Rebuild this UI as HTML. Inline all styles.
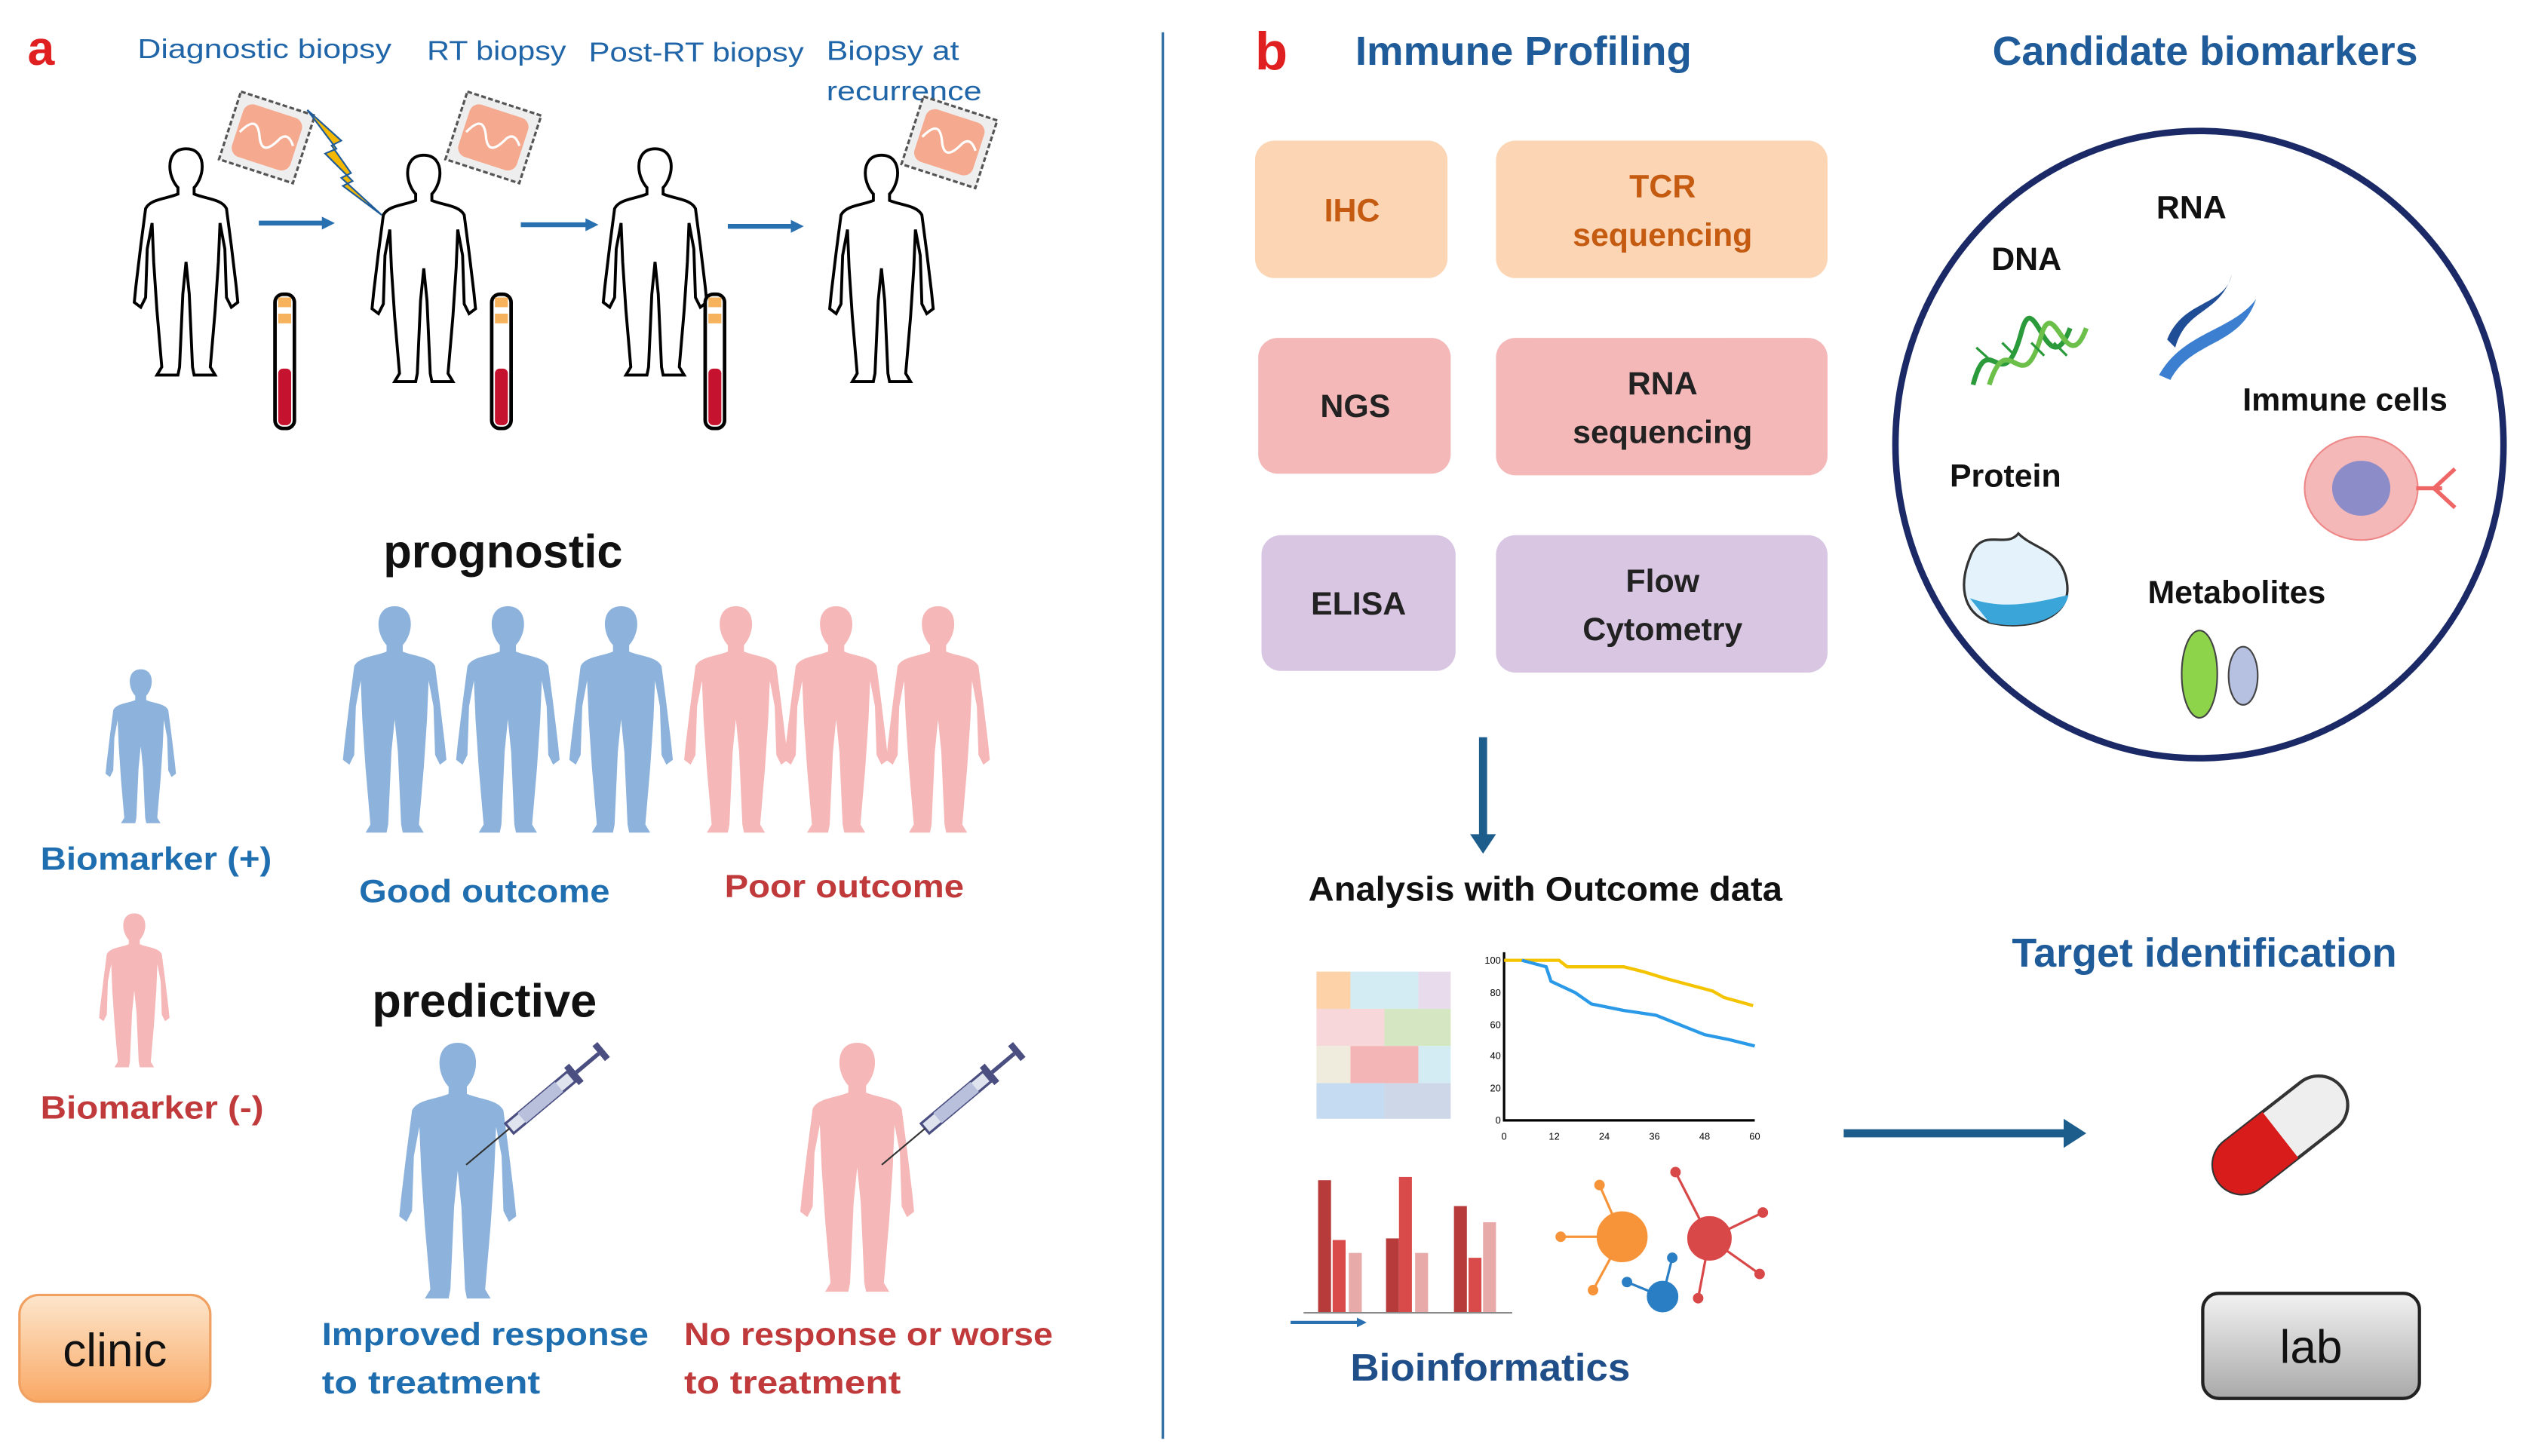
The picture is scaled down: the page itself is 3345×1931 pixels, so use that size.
<!DOCTYPE html>
<html><head><meta charset="utf-8"><style>
html,body{margin:0;padding:0;background:#fff;}
svg{display:block;}
text{font-family:"Liberation Sans",sans-serif;}
</style></head><body>
<svg width="3345" height="1931" viewBox="0 0 1560 900.6" xmlns="http://www.w3.org/2000/svg">
<defs>
<path id="p" d="M0,0 C-7,0 -10,5 -10,11 C-10,17 -7,22 -5,24 L-5,28 C-12,31 -22,31 -25,37 L-28,60 L-31,85 L-32,95 L-28,98 L-25,92 L-24,62 L-21,46 L-20,70 L-18,100 L-15,135 L-18,140 L-5,140 L-4,135 L-2,90 L0,70 L2,90 L4,135 L5,140 L18,140 L15,135 L18,100 L20,70 L21,46 L24,62 L25,92 L28,98 L32,95 L31,85 L28,60 L25,37 C22,31 12,31 5,28 L5,24 C7,22 10,17 10,11 C10,5 7,0 0,0 Z"/>
<g id="tube">
<rect x="-6" y="0" width="12" height="83" rx="5" fill="#fff" stroke="#000" stroke-width="2.2"/>
<rect x="-4" y="2" width="8" height="6" fill="#f6b25c"/>
<rect x="-4" y="12" width="8" height="6" fill="#f6b25c"/>
<rect x="-4" y="46" width="8" height="35" rx="3" fill="#c4122f"/>
</g>
<g id="tile">
<rect x="-24" y="-22" width="48" height="44" fill="#eee" stroke="#555" stroke-width="1.5" stroke-dasharray="3,1.5"/>
<rect x="-19" y="-17" width="38" height="34" rx="6" fill="#f5a98f"/>
<path d="M-17,2 C-12,-8 -8,-8 -4,2 C0,10 4,6 8,-2 C11,-6 14,-4 17,0" fill="none" stroke="#fff" stroke-width="1.5"/>
</g>
<g id="syr">
<rect x="0" y="-4" width="50" height="8" fill="#dfe3ee" stroke="#4a4e80" stroke-width="1.5"/>
<rect x="10" y="-4" width="30" height="8" fill="#b9c0dc"/>
<rect x="50" y="-7" width="4" height="14" fill="#4a4e80"/>
<line x1="54" y1="0" x2="72" y2="0" stroke="#4a4e80" stroke-width="2.5"/>
<rect x="72" y="-6" width="4" height="12" fill="#4a4e80"/>
<line x1="0" y1="0" x2="-35" y2="0" stroke="#333" stroke-width="1"/>
</g>
<linearGradient id="og" x1="0" y1="0" x2="0" y2="1"><stop offset="0" stop-color="#fde6cc"/><stop offset="1" stop-color="#f9a864"/></linearGradient>
<linearGradient id="gg" x1="0" y1="0" x2="0" y2="1"><stop offset="0" stop-color="#f2f2f2"/><stop offset="1" stop-color="#a9a9a9"/></linearGradient>
</defs>

<!-- Panel a -->
<text x="17" y="40" font-size="30" font-weight="bold" fill="#e02020">a</text>
<g font-size="17" fill="#1f65a8" lengthAdjust="spacingAndGlyphs">
<text x="85" y="36" textLength="157" lengthAdjust="spacingAndGlyphs">Diagnostic biopsy</text>
<text x="264" y="37" textLength="86" lengthAdjust="spacingAndGlyphs">RT biopsy</text>
<text x="364" y="38" textLength="133" lengthAdjust="spacingAndGlyphs">Post-RT biopsy</text>
<text x="511" y="37" textLength="82" lengthAdjust="spacingAndGlyphs">Biopsy at</text>
<text x="511" y="62" textLength="96" lengthAdjust="spacingAndGlyphs">recurrence</text>
</g>
<g fill="#fff" stroke="#000" stroke-width="1.8">
<use href="#p" transform="translate(115,92)"/>
<use href="#p" transform="translate(262,96)"/>
<use href="#p" transform="translate(405,92)"/>
<use href="#p" transform="translate(545,96)"/>
</g>
<use href="#tube" transform="translate(176,182)"/>
<use href="#tube" transform="translate(310,182)"/>
<use href="#tube" transform="translate(442,182)"/>
<use href="#tile" transform="translate(165,85) rotate(18)"/>
<use href="#tile" transform="translate(305,85) rotate(18)"/>
<use href="#tile" transform="translate(587,88) rotate(18)"/>
<path d="M190,68 L208,92 L201,95 L218,112 L212,115 L236,133 L211,110 L217,107 L205,90 L211,87 Z" fill="#f5b800" stroke="#1f5c99" stroke-width="1"/>
<g stroke="#2870b0" stroke-width="3" fill="#2870b0">
<line x1="160" y1="138" x2="200" y2="138"/><path d="M199,134 L207,138 L199,142 Z" stroke="none"/>
<line x1="322" y1="139" x2="363" y2="139"/><path d="M362,135 L370,139 L362,143 Z" stroke="none"/>
<line x1="450" y1="140" x2="490" y2="140"/><path d="M489,136 L497,140 L489,144 Z" stroke="none"/>
</g>

<text x="237" y="351" font-size="29" font-weight="bold" fill="#111" textLength="148" lengthAdjust="spacingAndGlyphs">prognostic</text>
<g fill="#8db3dc">
<use href="#p" transform="translate(244,375)"/>
<use href="#p" transform="translate(314,375)"/>
<use href="#p" transform="translate(384,375)"/>
<use href="#p" transform="translate(87,414) scale(0.68)"/>
<use href="#p" transform="translate(283,645) scale(1.13)"/>
</g>
<g fill="#f5b7b7">
<use href="#p" transform="translate(455,375)"/>
<use href="#p" transform="translate(517,375)"/>
<use href="#p" transform="translate(580,375)"/>
<use href="#p" transform="translate(83,565) scale(0.68)"/>
<use href="#p" transform="translate(530,645) scale(1.1)"/>
</g>
<use href="#syr" transform="translate(315,698) rotate(-40)"/>
<use href="#syr" transform="translate(572,698) rotate(-40)"/>
<g font-size="20" font-weight="bold" fill="#1f6fb0">
<text x="222" y="558" textLength="155" lengthAdjust="spacingAndGlyphs">Good outcome</text>
<text x="25" y="538" textLength="143" lengthAdjust="spacingAndGlyphs">Biomarker (+)</text>
<text x="199" y="832" textLength="202" lengthAdjust="spacingAndGlyphs">Improved response</text>
<text x="199" y="862" textLength="135" lengthAdjust="spacingAndGlyphs">to treatment</text>
</g>
<g font-size="20" font-weight="bold" fill="#c0393b">
<text x="448" y="555" textLength="148" lengthAdjust="spacingAndGlyphs">Poor outcome</text>
<text x="25" y="692" textLength="138" lengthAdjust="spacingAndGlyphs">Biomarker (-)</text>
<text x="423" y="832" textLength="228" lengthAdjust="spacingAndGlyphs">No response or worse</text>
<text x="423" y="862" textLength="134" lengthAdjust="spacingAndGlyphs">to treatment</text>
</g>
<text x="230" y="629" font-size="29" font-weight="bold" fill="#111" textLength="139" lengthAdjust="spacingAndGlyphs">predictive</text>
<rect x="12" y="801" width="118" height="66" rx="12" fill="url(#og)" stroke="#f0a060" stroke-width="1.5"/>
<text x="71" y="845" font-size="29" text-anchor="middle" fill="#111">clinic</text>

<line x1="719" y1="20" x2="719" y2="890" stroke="#2e6da4" stroke-width="1.5"/>

<!-- Panel b -->
<text x="776" y="43" font-size="33" font-weight="bold" fill="#e02020">b</text>
<text x="838" y="40" font-size="25" font-weight="bold" fill="#1f5b99" textLength="208" lengthAdjust="spacingAndGlyphs">Immune Profiling</text>
<text x="1232" y="40" font-size="25" font-weight="bold" fill="#1f5b99" textLength="263" lengthAdjust="spacingAndGlyphs">Candidate biomarkers</text>
<g font-size="20" font-weight="bold" text-anchor="middle">
<rect x="776" y="87" width="119" height="85" rx="12" fill="#fcd5b4"/>
<rect x="925" y="87" width="205" height="85" rx="12" fill="#fcd5b4"/>
<text x="836" y="137" fill="#c55a11">IHC</text>
<text x="1028" y="122" fill="#c55a11">TCR</text>
<text x="1028" y="152" fill="#c55a11">sequencing</text>
<rect x="778" y="209" width="119" height="84" rx="12" fill="#f4b8b8"/>
<rect x="925" y="209" width="205" height="85" rx="12" fill="#f4b8b8"/>
<text x="838" y="258" fill="#222">NGS</text>
<text x="1028" y="244" fill="#222">RNA</text>
<text x="1028" y="274" fill="#222">sequencing</text>
<rect x="780" y="331" width="120" height="84" rx="12" fill="#d9c6e3"/>
<rect x="925" y="331" width="205" height="85" rx="12" fill="#d9c6e3"/>
<text x="840" y="380" fill="#222">ELISA</text>
<text x="1028" y="366" fill="#222">Flow</text>
<text x="1028" y="396" fill="#222">Cytometry</text>
</g>
<ellipse cx="1360" cy="275" rx="188" ry="194" fill="none" stroke="#1b2a66" stroke-width="4"/>
<g font-size="20" font-weight="bold" fill="#111" text-anchor="middle">
<text x="1355" y="135">RNA</text>
<text x="1253" y="167">DNA</text>
<text x="1450" y="254">Immune cells</text>
<text x="1240" y="301">Protein</text>
<text x="1383" y="373">Metabolites</text>
</g>
<g fill="none" stroke-width="3">
<path d="M1220,238 C1230,200 1238,250 1250,205 C1258,175 1266,240 1280,203" stroke="#2a9a3a"/>
<path d="M1230,238 C1242,200 1250,250 1262,208 C1270,180 1278,236 1290,203" stroke="#6cc04a"/>
<path d="M1222,215 L1232,224 M1238,212 L1246,220 M1256,212 L1264,220 M1270,212 L1278,220" stroke="#2a9a3a" stroke-width="1.5"/>
</g>
<path d="M1340,210 C1350,185 1375,190 1380,170 C1372,195 1352,190 1345,215 Z" fill="#1f4e96"/>
<path d="M1335,232 C1350,205 1380,205 1395,185 C1385,215 1355,210 1342,235 Z" fill="#3c7fd0"/>
<ellipse cx="1460" cy="302" rx="35" ry="32" fill="#f4b8b8" stroke="#e88" stroke-width="1"/>
<ellipse cx="1460" cy="302" rx="18" ry="17" fill="#8c8cc8"/>
<path d="M1494,302 L1510,302 M1505,302 L1518,290 M1505,302 L1518,314" stroke="#e66" stroke-width="2.5" fill="none"/>
<path d="M1218,345 C1225,325 1240,340 1248,330 C1258,340 1275,340 1278,360 C1282,385 1250,390 1230,385 C1212,378 1212,360 1218,345 Z" fill="#e4f3fb" stroke="#333" stroke-width="1.5"/>
<path d="M1218,370 C1240,378 1262,372 1279,368 C1276,384 1250,390 1230,385 Z" fill="#3aa5d8"/>
<ellipse cx="1360" cy="417" rx="11" ry="27" fill="#8ed44a" stroke="#444" stroke-width="1"/>
<ellipse cx="1387" cy="418" rx="9" ry="18" fill="#b6c0e0" stroke="#444" stroke-width="1"/>

<line x1="917" y1="456" x2="917" y2="518" stroke="#1d5d8c" stroke-width="5"/>
<path d="M909,516 L917,528 L925,516 Z" fill="#1d5d8c"/>
<text x="809" y="557" font-size="21" font-weight="bold" fill="#111" textLength="293" lengthAdjust="spacingAndGlyphs">Analysis with Outcome data</text>
<!-- heatmap -->
<rect x="814" y="601" width="21" height="23" fill="#fdd2a9"/>
<rect x="835" y="601" width="42" height="23" fill="#d3ecf3"/>
<rect x="877" y="601" width="20" height="23" fill="#e8dcec"/>
<rect x="814" y="624" width="42" height="23" fill="#f8d7da"/>
<rect x="856" y="624" width="41" height="23" fill="#d4e6c2"/>
<rect x="814" y="647" width="21" height="23" fill="#efebdd"/>
<rect x="835" y="647" width="42" height="23" fill="#f4b5b6"/>
<rect x="877" y="647" width="20" height="23" fill="#d3ecf3"/>
<rect x="814" y="670" width="42" height="22" fill="#c4dbf1"/>
<rect x="856" y="670" width="41" height="22" fill="#ced7e8"/>
<!-- KM chart -->
<path d="M930,589 L930,693 L1085,693" fill="none" stroke="#000" stroke-width="1.5"/>
<g font-size="6" fill="#000" text-anchor="end">
<text x="928" y="596">100</text><text x="928" y="616">80</text><text x="928" y="636">60</text><text x="928" y="655">40</text><text x="928" y="675">20</text><text x="928" y="695">0</text>
</g>
<g font-size="6" fill="#000" text-anchor="middle">
<text x="930" y="705">0</text><text x="961" y="705">12</text><text x="992" y="705">24</text><text x="1023" y="705">36</text><text x="1054" y="705">48</text><text x="1085" y="705">60</text>
</g>
<path d="M930,594 L964,594 L969,598 L1004,598 L1016,601 L1029,605 L1044,609 L1059,613 L1066,617 L1084,622" fill="none" stroke="#f5c400" stroke-width="2"/>
<path d="M941,594 L956,598 L959,607 L974,614 L984,621 L1004,625 L1024,628 L1039,634 L1054,640 L1069,643 L1085,647" fill="none" stroke="#2a9ae8" stroke-width="2"/>
<!-- bars -->
<g>
<rect x="815" y="730" width="8" height="82" fill="#b83b3b"/>
<rect x="824" y="767" width="8" height="45" fill="#d94b4b"/>
<rect x="834" y="775" width="8" height="37" fill="#e8a9a9"/>
<rect x="857" y="766" width="8" height="46" fill="#b83b3b"/>
<rect x="865" y="728" width="8" height="84" fill="#d94b4b"/>
<rect x="875" y="775" width="8" height="37" fill="#e8a9a9"/>
<rect x="899" y="746" width="8" height="66" fill="#b83b3b"/>
<rect x="908" y="778" width="8" height="34" fill="#d94b4b"/>
<rect x="917" y="756" width="8" height="56" fill="#e8a9a9"/>
<line x1="806" y1="812" x2="935" y2="812" stroke="#888" stroke-width="1"/>
<line x1="798" y1="818" x2="840" y2="818" stroke="#2870b0" stroke-width="2"/>
<path d="M839,815 L845,818 L839,821 Z" fill="#2870b0"/>
</g>
<!-- network -->
<g stroke-width="1.5">
<g stroke="#f7943a" fill="#f7943a"><line x1="1003" y1="765" x2="989" y2="733"/><line x1="1003" y1="765" x2="965" y2="765"/><line x1="1003" y1="765" x2="985" y2="798"/><circle cx="1003" cy="765" r="15"/><circle cx="989" cy="733" r="2.5"/><circle cx="965" cy="765" r="2.5"/><circle cx="985" cy="798" r="2.5"/></g>
<g stroke="#d94848" fill="#d94848"><line x1="1057" y1="766" x2="1036" y2="725"/><line x1="1057" y1="766" x2="1090" y2="750"/><line x1="1057" y1="766" x2="1088" y2="788"/><line x1="1057" y1="766" x2="1050" y2="803"/><circle cx="1057" cy="766" r="13"/><circle cx="1036" cy="725" r="2.5"/><circle cx="1090" cy="750" r="2.5"/><circle cx="1088" cy="788" r="2.5"/><circle cx="1050" cy="803" r="2.5"/></g>
<g stroke="#2a7ec4" fill="#2a7ec4"><line x1="1028" y1="802" x2="1034" y2="778"/><line x1="1028" y1="802" x2="1006" y2="793"/><circle cx="1028" cy="802" r="9"/><circle cx="1034" cy="778" r="2.5"/><circle cx="1006" cy="793" r="2.5"/></g>
</g>
<text x="835" y="854" font-size="24" font-weight="bold" fill="#1f4e89" textLength="173" lengthAdjust="spacingAndGlyphs">Bioinformatics</text>

<line x1="1140" y1="701" x2="1278" y2="701" stroke="#1d5d8c" stroke-width="5"/>
<path d="M1276,692 L1290,701 L1276,710 Z" fill="#1d5d8c"/>
<text x="1244" y="598" font-size="25" font-weight="bold" fill="#1f5b99" textLength="238" lengthAdjust="spacingAndGlyphs">Target identification</text>
<g transform="translate(1410,702) rotate(-38)">
<rect x="-48" y="-18" width="96" height="36" rx="18" fill="#eee" stroke="#333" stroke-width="2"/>
<path d="M0,-18 L-30,-18 A18,18 0 0 0 -30,18 L0,18 Z" fill="#d81b1b"/>
</g>
<rect x="1362" y="800" width="134" height="65" rx="10" fill="url(#gg)" stroke="#222" stroke-width="2"/>
<text x="1429" y="843" font-size="29" text-anchor="middle" fill="#111">lab</text>
</svg>
</body></html>
